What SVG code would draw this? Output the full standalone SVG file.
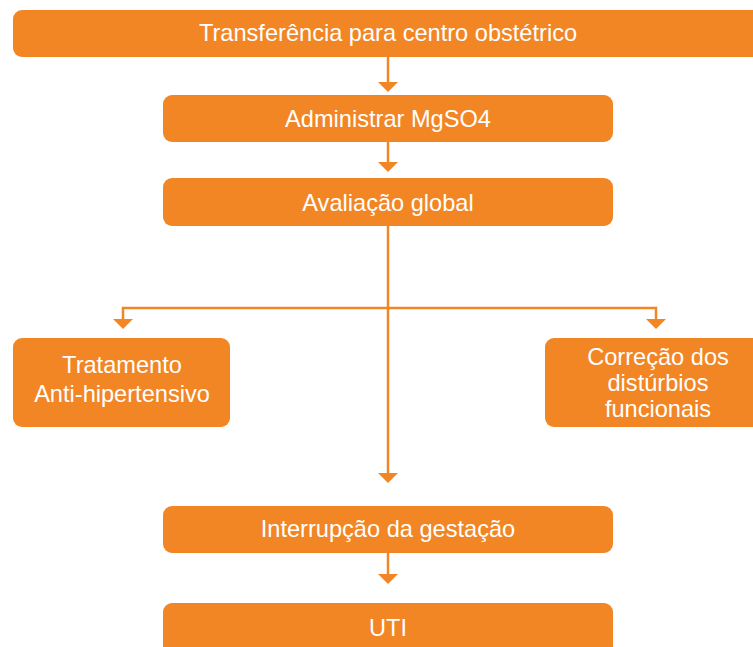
<svg xmlns="http://www.w3.org/2000/svg" width="753" height="647" viewBox="0 0 753 647">
<defs>
<style>
.box{fill:#F28524;}
.t{fill:#fff;font-family:"Liberation Sans",Arial,sans-serif;font-size:23.6px;text-anchor:middle;}
.c{stroke:#F28524;stroke-width:2.5;fill:none;}
.ah{fill:#F28524;}
</style>
</defs>
<rect width="753" height="647" fill="#fff"/>
<g id="connectors">
<line class="c" x1="388" y1="57" x2="388" y2="83"/>
<path class="ah" d="M378 82 L398 82 L388 92 Z"/>
<line class="c" x1="388" y1="142" x2="388" y2="163"/>
<path class="ah" d="M378 162 L398 162 L388 172 Z"/>
<line class="c" x1="388" y1="226" x2="388" y2="474"/>
<path class="ah" d="M378 473 L398 473 L388 483 Z"/>
<polyline class="c" points="123,320 123,308 656,308 656,320"/>
<path class="ah" d="M113 319 L133 319 L123 329 Z"/>
<path class="ah" d="M646 319 L666 319 L656 329 Z"/>
<line class="c" x1="388" y1="553" x2="388" y2="575"/>
<path class="ah" d="M378 574 L398 574 L388 584 Z"/>
</g>
<g id="n1"><rect class="box" x="13" y="10" width="760" height="47" rx="9"/><text class="t" x="388" y="41">Transferência para centro obstétrico</text></g>
<g id="n2"><rect class="box" x="163" y="95" width="450" height="47" rx="9"/><text class="t" x="388" y="127">Administrar MgSO4</text></g>
<g id="n3"><rect class="box" x="163" y="178" width="450" height="48" rx="9"/><text class="t" x="388" y="211">Avaliação global</text></g>
<g id="n4"><rect class="box" x="13" y="338" width="217" height="89" rx="9"/><text class="t" x="122" y="373">Tratamento</text><text class="t" x="122" y="402">Anti-hipertensivo</text></g>
<g id="n5"><rect class="box" x="545" y="338" width="230" height="89" rx="9"/><text class="t" x="658" y="365">Correção dos</text><text class="t" x="658" y="391">distúrbios</text><text class="t" x="658" y="417">funcionais</text></g>
<g id="n6"><rect class="box" x="163" y="506" width="450" height="47" rx="9"/><text class="t" x="388" y="537">Interrupção da gestação</text></g>
<g id="n7"><rect class="box" x="163" y="603" width="450" height="60" rx="9"/><text class="t" x="388" y="636">UTI</text></g>
</svg>
